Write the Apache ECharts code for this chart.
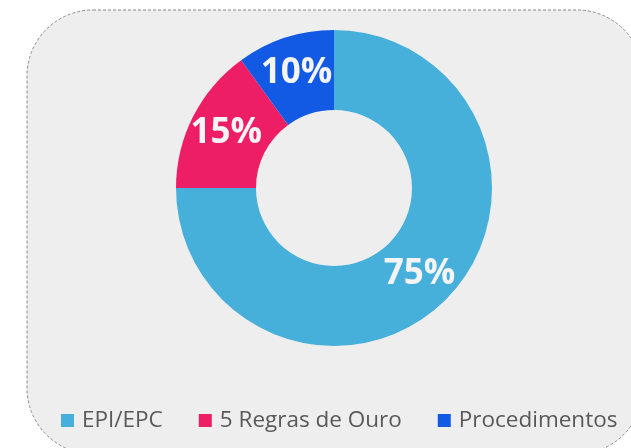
<!DOCTYPE html>
<html>
<head>
<meta charset="utf-8">
<script src="https://cdn.jsdelivr.net/npm/echarts@6/dist/echarts.min.js"></script>
<style>
html,body{margin:0;padding:0;background:#fff;}
#c{width:631px;height:448px;}
</style>
</head>
<body>
<div id="c"></div>
<script>
const categories = ['EPI/EPC', '5 Regras de Ouro', 'Procedimentos'];
const values = [75, 15, 10];
const colors = ['#47B0DA', '#EE1E66', '#1259E4'];

const chart = echarts.init(document.getElementById('c'), null, {renderer: 'canvas'});
chart.setOption({
  animation: false,
  backgroundColor: '#ffffff',
  color: colors,
  graphic: [{
    type: 'rect',
    z: -10,
    shape: {x: 27, y: 10, width: 616, height: 444, r: 66},
    style: {fill: '#eeeeee', stroke: '#8a8a8a', lineWidth: 1, lineDash: [3, 2]}
  }],
  legend: {
    data: categories,
    top: 404,
    left: 56,
    icon: 'rect',
    itemWidth: 13,
    itemHeight: 13,
    itemGap: 36,
    textStyle: {fontFamily: 'Open Sans', fontSize: 22.5, color: '#595959', padding: [0, 0, 0, 3]}
  },
  series: [{
    type: 'pie',
    center: [334, 188],
    radius: [78, 158],
    startAngle: 90,
    clockwise: true,
    avoidLabelOverlap: false,
    label: {
      show: true,
      position: 'inside',
      formatter: '{c}%',
      color: '#f4f4f4',
      fontFamily: 'Open Sans',
      fontWeight: 'bold',
      fontSize: 35
    },
    labelLine: {show: false},
    emphasis: {disabled: true},
    data: categories.map((n, i) => ({name: n, value: values[i]}))
  }]
});
</script>
</body>
</html>
